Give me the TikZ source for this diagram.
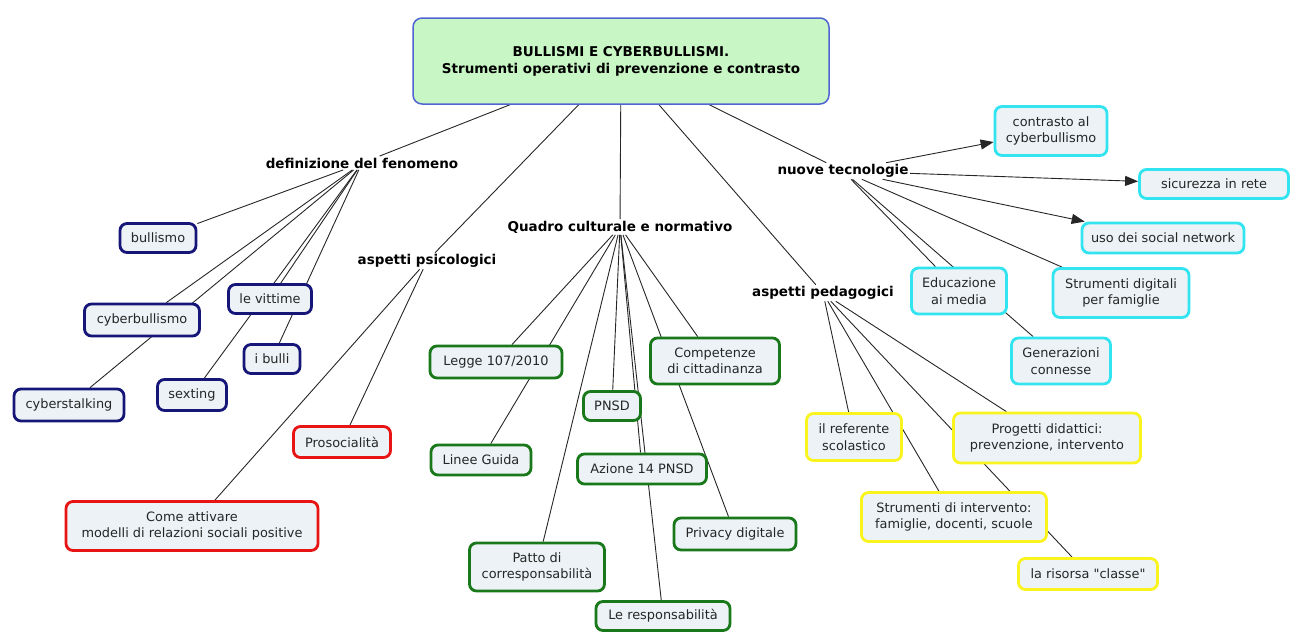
\documentclass[tikz,border=0pt]{standalone}
\usepackage{fontspec}
\setmainfont{DejaVu Sans}
\newfontfamily\nomapfont{DejaVu Sans}
\usetikzlibrary{backgrounds,arrows.meta}
\definecolor{nodefill}{RGB}{236,242,246}
\definecolor{navyb}{RGB}{22,22,120}
\definecolor{redb}{RGB}{232,20,20}
\definecolor{greenb}{RGB}{25,120,25}
\definecolor{cyanb}{RGB}{50,228,240}
\definecolor{yellowb}{RGB}{250,244,30}
\definecolor{mainfill}{RGB}{200,246,196}
\definecolor{mainb}{RGB}{80,100,210}
\tikzset{
  cbox/.style={draw, line width=2.8pt, rounded corners=7pt, fill=nodefill, align=center,
    inner sep=0pt, font=\fontsize{12.9}{16.5}\selectfont, text=black!85},
  nav/.style={cbox, draw=navyb},
  redc/.style={cbox, draw=redb},
  grn/.style={cbox, draw=greenb},
  cya/.style={cbox, draw=cyanb},
  yel/.style={cbox, draw=yellowb},
  lab/.style={inner sep=1.5pt, font=\fontsize{13.5}{17}\selectfont\bfseries},
  conn/.style={draw=black!85, line width=0.9pt},
  arr/.style={conn, -{Triangle[length=13pt,width=10pt]}},
}
\begin{document}
\begin{tikzpicture}[x=1pt,y=-1pt]
\useasboundingbox (0,0) rectangle (1291,632);
% main
\node[draw=mainb, fill=mainfill, line width=1.5pt, rounded corners=9pt, minimum width=416pt, minimum height=86pt,
  align=center, font=\fontsize{13.5}{17}\selectfont\bfseries] (main) at (621,61)
  {BULLISMI E CYBERBULLISMI.\\Strumenti operativi di prevenzione e contrasto};
% labels
\node[lab] (def) at (362,163) {definizione del fenomeno};
\node[lab] (psic) at (427,261) {aspetti psicologici};
\node[lab] (quadro) at (620,227) {Quadro culturale e normativo};
\node[lab] (ped) at (823,293) {aspetti pedagogici};
\node[lab] (nuove) at (843,171) {nuove tecnologie};
% navy
\node[nav, minimum width=76pt, minimum height=29pt] (bullismo) at (158,238) {bullismo};
\node[nav, minimum width=115pt, minimum height=32pt] (cyberb) at (142,320) {cyberbullismo};
\node[nav, minimum width=83pt, minimum height=29pt] (vittime) at (270,299) {le vittime};
\node[nav, minimum width=56pt, minimum height=29pt] (bulli) at (272,359) {i bulli};
\node[nav, minimum width=69pt, minimum height=31pt] (sexting) at (192,395) {sexting};
\node[nav, minimum width=110pt, minimum height=32pt] (cyberst) at (69,405) {cyberstalking};
% red
\node[redc, minimum width=97pt, minimum height=31pt] (proso) at (342,442) {Prosocialità};
\node[redc, minimum width=252pt, minimum height=49pt] (come) at (192,526) {Come attivare\\modelli di relazioni sociali positive};
% green
\node[grn, minimum width=132pt, minimum height=32pt] (legge) at (496,362) {Legge 107/2010};
\node[grn, minimum width=100pt, minimum height=30pt] (linee) at (481,460) {Linee Guida};
\node[grn, minimum width=57pt, minimum height=29pt] (pnsd) at (612,406) {PNSD};
\node[grn, minimum width=129pt, minimum height=46pt] (compet) at (715,361) {Competenze\\di cittadinanza};
\node[grn, minimum width=129pt, minimum height=30pt] (azione) at (642,469) {Azione 14 PNSD};
\node[grn, minimum width=122pt, minimum height=32pt] (privacy) at (735,534) {Privacy digitale};
\node[grn, minimum width=135pt, minimum height=48pt] (patto) at (537,567) {Patto di\\corresponsabilità};
\node[grn, minimum width=134pt, minimum height=29pt] (resp) at (663,616) {Le responsabilità};
% cyan
\node[cya, minimum width=112pt, minimum height=49pt] (contrasto) at (1051,131) {contrasto al\\cyberbullismo};
\node[cya, minimum width=149pt, minimum height=29pt] (sicurezza) at (1214,184) {sicurezza in rete};
\node[cya, minimum width=162pt, minimum height=30pt] (uso) at (1163,238) {uso dei social network};
\node[cya, minimum width=95pt, minimum height=46pt] (educ) at (959,291) {Educazione\\ai media};
\node[cya, minimum width=136pt, minimum height=49pt] (strdig) at (1121,293) {Strumenti digitali\\per famiglie};
\node[cya, minimum width=99pt, minimum height=46pt] (gener) at (1061,361) {Generazioni\\connesse};
% yellow
\node[yel, minimum width=95pt, minimum height=47pt] (refer) at (854,437) {il referente\\scolastico};
\node[yel, minimum width=187pt, minimum height=50pt] (progetti) at (1047,438) {Progetti didattici:\\prevenzione, intervento};
\node[yel, minimum width=185pt, minimum height=49pt] (strint) at (954,517) {Strumenti di intervento:\\famiglie, docenti, scuole};
\node[yel, minimum width=139pt, minimum height=31pt] (risorsa) at (1088,574) {\nomapfont la risorsa "classe"};
% connectors
\begin{scope}[on background layer]
  \draw[conn] (main) -- (def);
  \draw[conn] (main) -- (psic);
  \draw[conn] (main) -- (quadro);
  \draw[conn] (main) -- (ped);
  \draw[conn] (main) -- (nuove);
  \foreach \t in {bullismo,cyberb,cyberst,vittime,sexting,bulli}
    \draw[conn] (def) -- (\t);
  \foreach \t in {proso,come}
    \draw[conn] (psic) -- (\t);
  \foreach \t in {legge,linee,patto,pnsd,azione,resp,compet,privacy}
    \draw[conn] (quadro) -- (\t);
  \foreach \t in {refer,strint,progetti,risorsa}
    \draw[conn] (ped) -- (\t);
  \foreach \t in {educ,gener,strdig}
    \draw[conn] (nuove) -- (\t);
  \foreach \t in {contrasto,sicurezza,uso}
    \draw[arr] (nuove) -- (\t);
\end{scope}
\end{tikzpicture}
\end{document}
